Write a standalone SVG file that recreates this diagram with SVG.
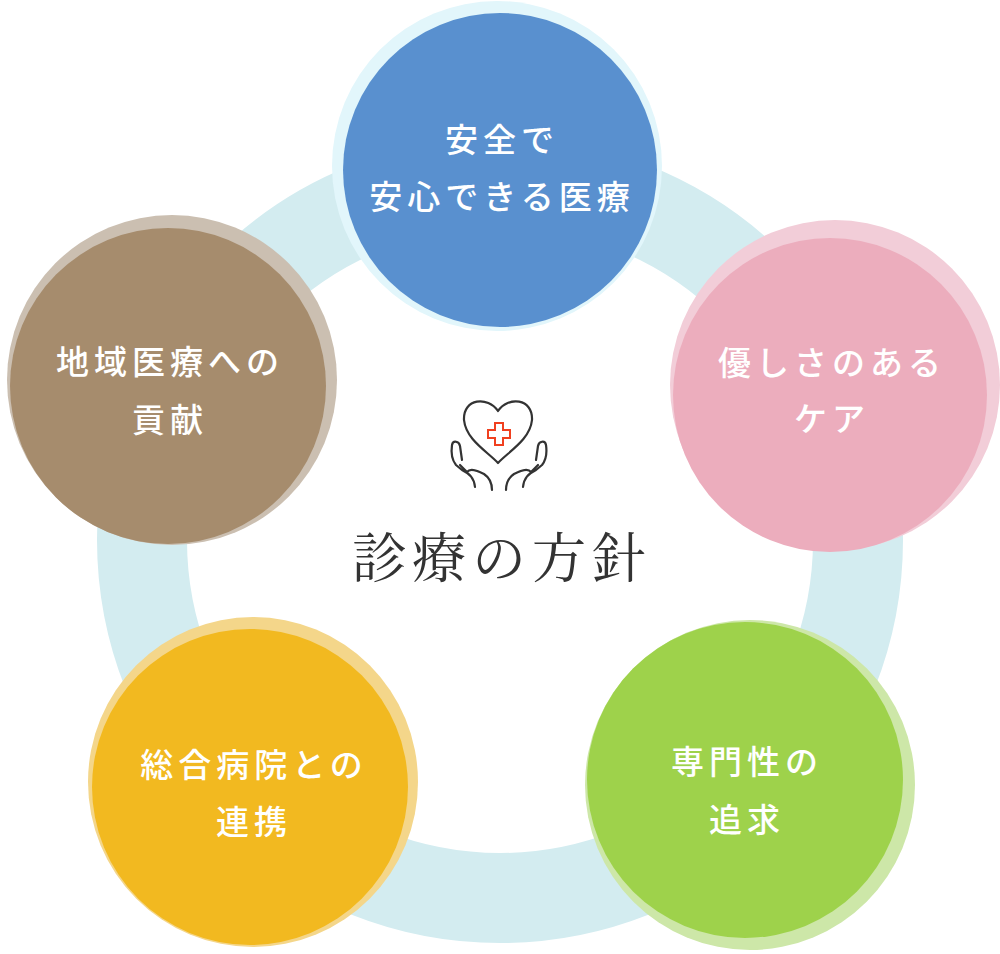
<svg xmlns="http://www.w3.org/2000/svg" width="1000" height="954" viewBox="0 0 1000 954">
<style>
.t{font-family:"Noto Sans CJK JP",sans-serif;font-size:33px;fill:#fff;text-anchor:middle;letter-spacing:5px;font-weight:500}
.ic{fill:none;stroke:#333;stroke-width:2.2;stroke-linejoin:round;stroke-linecap:round}
</style>
<rect width="1000" height="954" fill="#fff"/>
<circle cx="500" cy="540" r="358" fill="none" stroke="#d3ecf0" stroke-width="90"/>
<g id="n1"><circle cx="497" cy="166" r="165" fill="#e2f6fb"/><circle cx="500" cy="170" r="157" fill="#5990cf"/>
<text class="t" x="502" y="152">安全で</text><text class="t" x="502" y="209">安心できる医療</text></g>
<g id="n2"><circle cx="835" cy="385" r="165" fill="#f2cdd8"/><circle cx="830" cy="395" r="157" fill="#ecadbd"/>
<text class="t" x="832" y="375">優しさのある</text><text class="t" x="832" y="431">ケア</text></g>
<g id="n3"><circle cx="750" cy="785" r="165" fill="#cde7a8"/><circle cx="745" cy="780" r="158" fill="#9ed24b"/>
<text class="t" x="747" y="774">専門性の</text><text class="t" x="747" y="832">追求</text></g>
<g id="n4"><circle cx="253" cy="782" r="165" fill="#f4d68a"/><circle cx="250" cy="787" r="158" fill="#f2b920"/>
<text class="t" x="254" y="777">総合病院との</text><text class="t" x="254" y="834">連携</text></g>
<g id="n5"><circle cx="172" cy="380" r="165" fill="#cbbfb1"/><circle cx="168" cy="386" r="158" fill="#a68c6d"/>
<text class="t" x="170" y="374">地域医療への</text><text class="t" x="170" y="432">貢献</text></g>
<g id="center">
<path class="ic" d="M498 411 C488 396 463 398 464 420 C466 440 488 452 498 463 C508 452 530 440 532 420 C533 398 508 396 498 411 Z"/>
<path d="M495 423h8v7h7v8h-7v7h-8v-7h-7v-8h7z" fill="none" stroke="#f0401f" stroke-width="2"/>
<path class="ic" d="M475 487 C474 478 470 474 462 470 L456 465 C452 460 451 452 452 445 C453 440 459 441 460 446 L462 460 M460 465 L467 472 C470 468 476 470 484 474 C490 478 492 484 492 490"/>
<path class="ic" d="M523 487 C524 478 528 474 536 470 L542 465 C546 460 547 452 546 445 C545 440 539 441 538 446 L536 460 M538 465 L531 472 C528 468 522 470 514 474 C508 478 506 484 506 490"/>
<text x="502" y="578" font-family="Noto Serif CJK JP,'Noto Sans CJK JP',serif" font-size="54" fill="#333" text-anchor="middle" letter-spacing="6">診療の方針</text>
</g>
</svg>
